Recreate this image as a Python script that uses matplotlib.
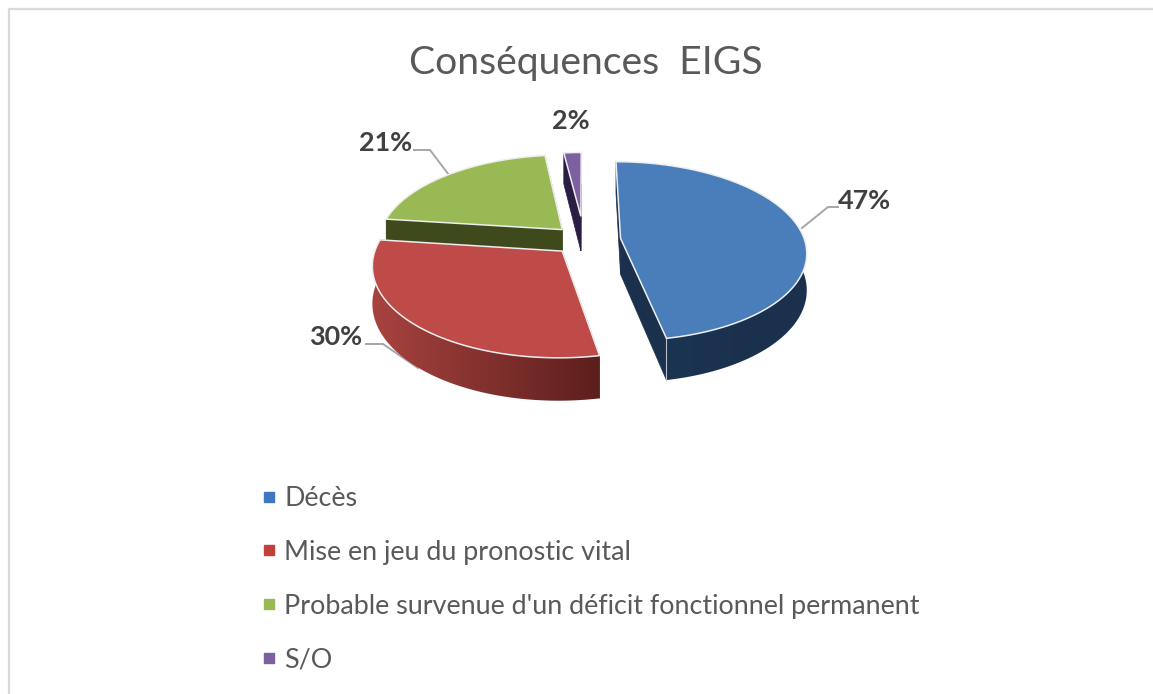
"""
Consequences EIGS, exploded 3D pie drawn by hand since matplotlib has no such pie.
"""

import matplotlib
matplotlib.use('Agg')
import matplotlib.pyplot as plt
from matplotlib.colors import to_rgb
from matplotlib.lines import Line2D
from matplotlib.patches import Polygon
import numpy as np

plt.rcParams['font.family'] = ['Lato', 'DejaVu Sans']

title = 'Conséquences  EIGS'
categories = ['Décès', 'Mise en jeu du pronostic vital',
              "Probable survenue d'un déficit fonctionnel permanent", 'S/O']
values = [47, 30, 21, 2]

top_colors = ['#4a7ebb', '#be4b48', '#98b954', '#7d60a0']
wall_left = ['#1b3553', '#a8433f', '#3f4a1c', '#2a1e45']
wall_right = ['#1a304c', '#5c1f1c', '#3f4a1c', '#2a1e45']
legend_colors = ['#3f78c0', '#c0403c', '#98b954', '#7d60a0']
explode = [0.20, 0.17, 0.17, 0.28]
radii = [1.0, 1.0, 1.0, 0.88]

TEXT = '#595959'
LEADER = '#a6a6a6'

# projection of the pie plane on the picture, in pixels
X0, Y0 = 584, 240
A, B = 184, 88
K = 1 / 7.
DEPTH = 36


def project(x, y):
    s = 1 / (1 + K * y)
    return X0 + A * x * s, Y0 - B * y * s, s


def drawSlice(ax, start, end, i, z):
    mid = (start + end) / 2
    ex = explode[i] * np.sin(mid)
    ey = explode[i] * np.cos(mid)
    t = np.linspace(start, end, 120)
    xs, ys, ss = project(ex + radii[i] * np.sin(t), ey + radii[i] * np.cos(t))
    ax_, ay_, as_ = project(ex, ey)

    # the two flat faces coming out of the centre
    for j in [0, -1]:
        face = [(ax_, ay_), (xs[j], ys[j]),
                (xs[j], ys[j] + DEPTH * ss[j]), (ax_, ay_ + DEPTH * as_)]
        ax.add_patch(Polygon(face, closed=True, fc=wall_right[i], ec=wall_right[i], lw=0.5, zorder=z))

    # outer wall, shaded from left to right through a clipped gradient
    low = ys + DEPTH * ss
    wall = Polygon(list(zip(xs, ys)) + list(zip(xs[::-1], low[::-1])), closed=True,
                   transform=ax.transData)
    grad = np.linspace(to_rgb(wall_left[i]), to_rgb(wall_right[i]), 256)[np.newaxis, :, :]
    im = ax.imshow(grad, extent=(xs.min(), xs.max(), low.max(), ys.min()),
                   aspect='auto', zorder=z + 0.1)
    im.set_clip_path(wall)

    # thin light line on the front corner
    ax.plot([xs[-1], xs[-1]], [ys[-1], low[-1]], color='#b8c0c8', lw=0.8, zorder=z + 0.2)

    top = [(ax_, ay_)] + list(zip(xs, ys))
    ax.add_patch(Polygon(top, closed=True, fc=top_colors[i], ec='#eeeeee', lw=1.1, zorder=z + 0.3))


fig = plt.figure(figsize=(11.53, 6.94), dpi=100, facecolor='white')
ax = fig.add_axes([0, 0, 1, 1])

# chart frame, cut by the picture on the right and the bottom
ax.plot([9, 9, 1153], [694, 8.5, 8.5], color='#d9d9d9', lw=1.6)

ax.text(586, 63, title, color=TEXT, fontsize=28.2, ha='center', va='center')

# slices, clockwise from the top, painted back to front
edges = np.concatenate([[0], np.cumsum(values)]) / float(sum(values)) * 2 * np.pi
for z, i in enumerate([3, 2, 1, 0]):
    drawSlice(ax, edges[i], edges[i + 1], i, z + 2)

ax.set_xlim(0, 1153)
ax.set_ylim(694, 0)
ax.set_aspect('auto')
ax.axis('off')

# data labels and their leader lines
label_pos = [(864, 201), (336, 337), (386, 143), (571, 121)]
leaders = [([802, 828, 838], [228, 207, 207]),
           ([366, 383, 418], [344, 344, 368]),
           ([449, 430, 414], [175, 150, 150]),
           None]
for v, pos, line in zip(values, label_pos, leaders):
    ax.text(pos[0], pos[1], '%d%%' % v, color='#404040', fontsize=19.4, fontweight='bold',
            ha='center', va='center', zorder=10)
    if line is not None:
        ax.plot(line[0], line[1], color=LEADER, lw=1.4, solid_joinstyle='miter', zorder=1)

handles = [Line2D([], [], linestyle='None', marker='s', markersize=6.5, color=c, label=n)
           for c, n in zip(legend_colors, categories)]
ax.legend(handles=handles, loc='upper left', bbox_to_anchor=(261, 486),
          bbox_transform=ax.transData, frameon=False, fontsize=19.4, labelcolor=TEXT,
          labelspacing=1.07, handlelength=0.6, handletextpad=0.26, borderpad=0, borderaxespad=0)

plt.savefig('out.png', dpi=100)
